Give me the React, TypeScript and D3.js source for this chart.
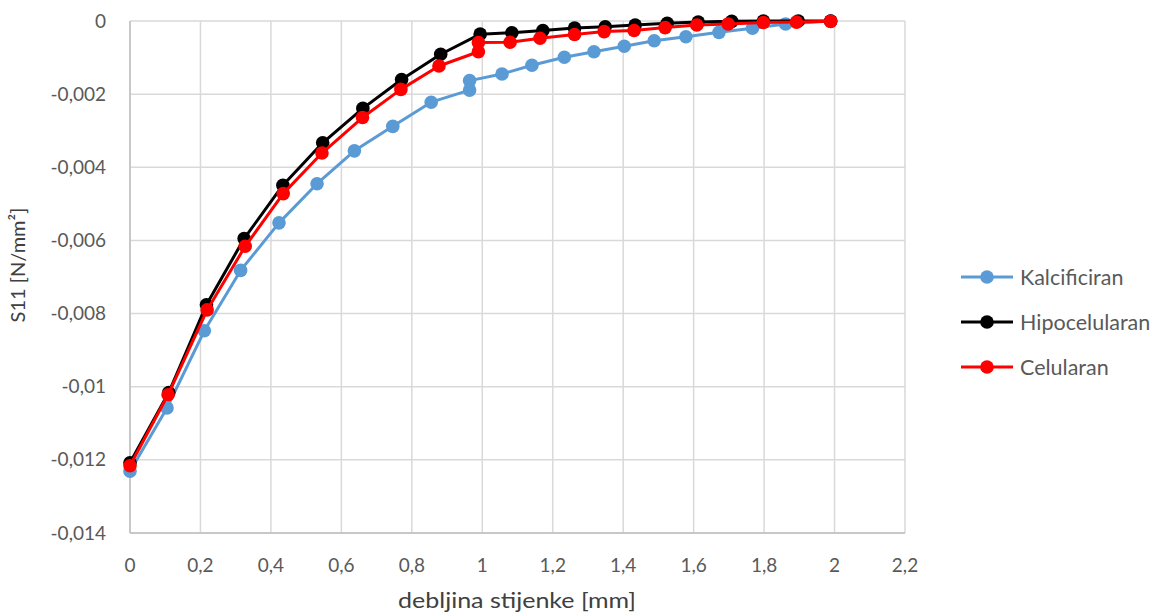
import React from "react";
import * as d3 from "d3";

const kalcX = [0, 0.105, 0.211, 0.314, 0.423, 0.531, 0.637, 0.746, 0.855, 0.964, 0.964, 1.056, 1.141, 1.233, 1.317, 1.403, 1.488, 1.578, 1.672, 1.767, 1.861, 1.989];
const kalcY = [-0.01231, -0.01058, -0.00847, -0.00682, -0.00552, -0.00445, -0.00355, -0.00288, -0.00222, -0.00189, -0.00163, -0.00145, -0.00121, -0.00099, -0.00084, -0.00069, -0.00054, -0.00043, -0.00031, -0.0002, -0.00008, 0];

const hipoX = [0, 0.11, 0.217, 0.324, 0.434, 0.547, 0.661, 0.771, 0.882, 0.994, 1.084, 1.172, 1.262, 1.349, 1.434, 1.525, 1.613, 1.708, 1.798, 1.897, 1.989];
const hipoY = [-0.01208, -0.01016, -0.00776, -0.00595, -0.00449, -0.00333, -0.00239, -0.0016, -0.00091, -0.00036, -0.00032, -0.00026, -0.00019, -0.00016, -0.00011, -0.00006, -0.00003, -0.00001, 0, 0, 0];

const celX = [0, 0.108, 0.219, 0.327, 0.435, 0.545, 0.66, 0.769, 0.877, 0.989, 0.989, 1.079, 1.164, 1.262, 1.346, 1.431, 1.519, 1.609, 1.698, 1.798, 1.892, 1.989];
const celY = [-0.01216, -0.01022, -0.0079, -0.00616, -0.00472, -0.00361, -0.00264, -0.00187, -0.00123, -0.00084, -0.00059, -0.00058, -0.00047, -0.00037, -0.00029, -0.00026, -0.00018, -0.00011, -0.00008, -0.00004, -0.00003, -0.00001];

const seriesNames = ["Kalcificiran", "Hipocelularan", "Celularan"];
const seriesColors = ["#5B9BD5", "#000000", "#FF0000"];

const xTicks = [0, 0.2, 0.4, 0.6, 0.8, 1, 1.2, 1.4, 1.6, 1.8, 2, 2.2];
const yTicks = [0, -0.002, -0.004, -0.006, -0.008, -0.01, -0.012, -0.014];

const xTitle = "debljina stijenke [mm]";
const yTitle = "S11 [N/mm²]";

const fmt = (v: number) => {
  const s = String(+v.toFixed(6));
  return s.replace(".", ",");
};

export default function App() {
  const W = 1158, H = 613;
  const left = 130, right = 905, top = 21, bottom = 533;
  const x = d3.scaleLinear().domain([0, 2.2]).range([left, right]);
  const y = d3.scaleLinear().domain([-0.014, 0]).range([bottom, top]);
  const line = d3.line<[number, number]>().x(d => x(d[0])).y(d => y(d[1]));

  const series = [
    kalcX.map((v, i) => [v, kalcY[i]] as [number, number]),
    hipoX.map((v, i) => [v, hipoY[i]] as [number, number]),
    celX.map((v, i) => [v, celY[i]] as [number, number]),
  ];

  const font = "Lato, 'Open Sans', sans-serif";
  const fs = 19;
  const legendY = [277, 322, 367];

  return (
    <svg width={W} height={H} style={{ position: "absolute", left: 0, top: 0, background: "#fff" }} fontFamily={font}>
      <rect x={0} y={0} width={W} height={H} fill="#fff" />
      {xTicks.map(t => (
        <line key={"gx" + t} x1={x(t)} x2={x(t)} y1={top} y2={bottom} stroke="#d9d9d9" strokeWidth={1.5} />
      ))}
      {yTicks.map(t => (
        <line key={"gy" + t} x1={left} x2={right} y1={y(t)} y2={y(t)} stroke="#d9d9d9" strokeWidth={1.5} />
      ))}
      <line x1={left} x2={left} y1={top} y2={bottom} stroke="#bfbfbf" strokeWidth={1.5} />
      <line x1={left} x2={right} y1={bottom} y2={bottom} stroke="#bfbfbf" strokeWidth={1.5} />
      {xTicks.map(t => (
        <text key={"tx" + t} x={x(t)} y={572} textAnchor="middle" fontSize={fs} fill="#595959">{fmt(t)}</text>
      ))}
      {yTicks.map(t => (
        <text key={"ty" + t} x={106} y={y(t) + 6.5} textAnchor="end" fontSize={fs} fill="#595959">{fmt(t)}</text>
      ))}
      <text x={517} y={608} textAnchor="middle" fontSize={21} fill="#404040" textLength={238} lengthAdjust="spacingAndGlyphs">{xTitle}</text>
      <text transform={`translate(25,265) rotate(-90)`} textAnchor="middle" fontSize={20} fill="#404040">{yTitle}</text>
      {series.map((pts, i) => (
        <g key={"s" + i}>
          <path d={line(pts) || ""} fill="none" stroke={seriesColors[i]} strokeWidth={3} strokeLinejoin="round" />
          {pts.map((p, j) => (
            <circle key={j} cx={x(p[0])} cy={y(p[1])} r={6.8} fill={seriesColors[i]} />
          ))}
        </g>
      ))}
      {seriesNames.map((n, i) => (
        <g key={"l" + i}>
          <line x1={961} x2={1013} y1={legendY[i]} y2={legendY[i]} stroke={seriesColors[i]} strokeWidth={3} />
          <circle cx={987} cy={legendY[i]} r={6.8} fill={seriesColors[i]} />
          <text x={1020} y={legendY[i] + 7.5} fontSize={21.5} fill="#595959">{n}</text>
        </g>
      ))}
    </svg>
  );
}
